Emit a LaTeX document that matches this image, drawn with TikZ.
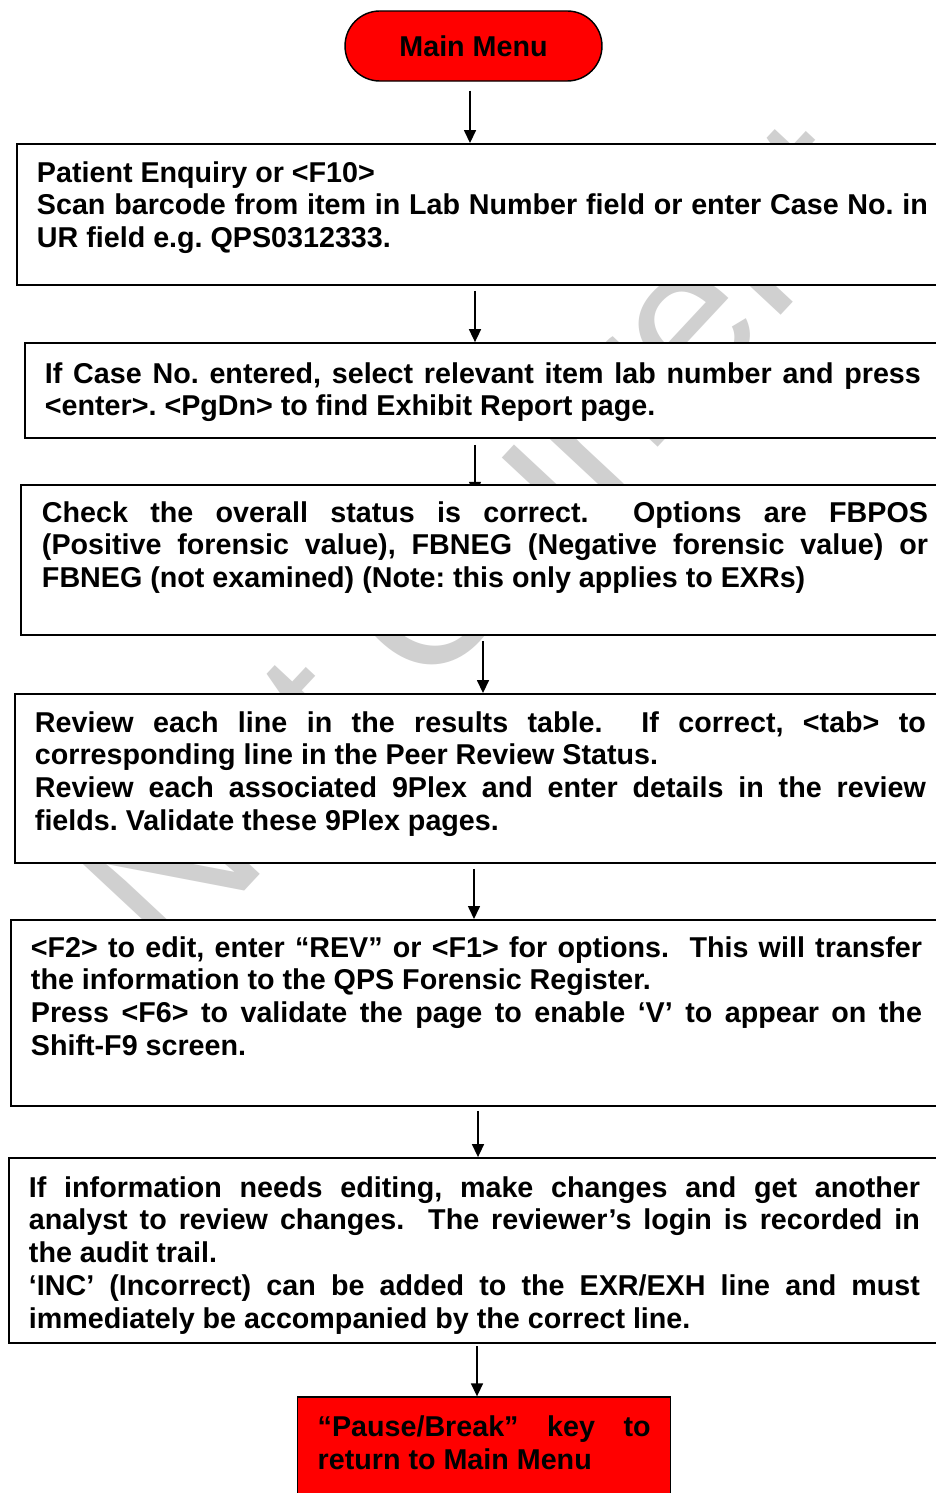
\documentclass[tikz,border=0pt]{standalone}
\usepackage{fontspec}
\setmainfont{Liberation Sans}
\usepackage{tikz}
\usetikzlibrary{arrows.meta,positioning,backgrounds}
\definecolor{wmgray}{RGB}{208,208,208}
\hyphenpenalty=10000
\exhyphenpenalty=10000
\tolerance=10000
\hbadness=10000
\frenchspacing

\begin{document}
\begin{tikzpicture}[
    x=0.4184pt, y=-0.4184pt,
    stepbox/.style={draw, fill=white, line width=0.8pt, anchor=base west, inner ysep=0pt, inner xsep=8.37pt, align=justify, font=\bfseries\fontsize{12}{13.8}\selectfont},
    menubox/.style={draw, fill=red, line width=0.6pt, font=\bfseries\fontsize{12}{13.8}\selectfont},
    arr/.style={-{Triangle[length=5.4pt,width=5pt]}, line width=0.6pt}
  ]
    \useasboundingbox (0,0) rectangle (935,1493);
    \node[menubox, rounded corners=14.6pt, minimum width=107.5pt, minimum height=29.3pt] (menu) at (473.5,46) {Main Menu};
    \node[stepbox, text width=372.8pt, text height=15.9pt, text depth=43.1pt] (enquiry) at (16,182) {Patient Enquiry or <F10>\\Scan barcode from item in Lab Number field or enter Case No. in\linebreak UR field e.g. QPS0312333.};
    \node[stepbox, text width=366.5pt, text height=16.7pt, text depth=23pt] (caseno) at (24,383) {If Case No. entered, select relevant item lab number and press\linebreak <enter>. <PgDn> to find Exhibit Report page.};
    \node[stepbox, inner xsep=8.8pt, text width=370.7pt, text height=15.5pt, text depth=47.3pt] (status) at (20,522) {Check the overall status is correct.\ \ Options are FBPOS\linebreak (Positive forensic value), FBNEG (Negative forensic value) or\linebreak FBNEG (not examined) (Note: this only applies to EXRs)};
    \node[stepbox, text width=372.8pt, text height=15.9pt, text depth=54.8pt] (review) at (14,732) {Review each line in the results table.\ \ If correct, <tab> to\linebreak corresponding line in the Peer Review Status.\\Review each associated 9Plex and enter details in the review\linebreak fields. Validate these 9Plex pages.};
    \node[stepbox, text width=372.8pt, text height=15.5pt, text depth=62.3pt] (transfer) at (10,957) {<F2> to edit, enter “REV” or <F1> for options.\ \ This will transfer\linebreak the information to the QPS Forensic Register.\\Press <F6> to validate the page to enable ‘V’ to appear on the\linebreak Shift-F9 screen.};
    \node[stepbox, text width=372.8pt, text height=16.3pt, text depth=61.1pt] (editing) at (8,1197) {If information needs editing, make changes and get another\linebreak analyst to review changes.\ \ The reviewer’s login is recorded in\linebreak the audit trail.\\‘INC’ (Incorrect) can be added to the EXR/EXH line and must\linebreak immediately be accompanied by the correct line.};
    \node[menubox, anchor=base west, inner ysep=0pt, inner xsep=8.37pt, align=justify, text width=139.3pt, text height=16.3pt, text depth=35.1pt] (pause) at (297,1436) {“Pause/Break” key to\linebreak return to Main Menu};

    \begin{pgfonlayer}{background}
      \fill[white] (0,0) rectangle (935,1493);
      \node[text=wmgray, rotate=47, font=\fontsize{85}{85}\selectfont] (watermark) at (478,538) {Not Current};
      \draw[arr] (menu.south -| 470,0) ++(0,9) -- (enquiry.north -| 470,0);
      \draw[arr] (enquiry.south -| 475,0) ++(0,5) -- (caseno.north -| 475,0);
      \draw[arr] (caseno.south -| 475,0) ++(0,6) -- ([yshift=-4.5pt]status.north -| 475,0);
      \draw[arr] (status.south -| 483,0) ++(0,5) -- (review.north -| 483,0);
      \draw[arr] (review.south -| 474,0) ++(0,5) -- (transfer.north -| 474,0);
      \draw[arr] (transfer.south -| 478,0) ++(0,4) -- (editing.north -| 478,0);
      \draw[arr] (editing.south -| 477,0) ++(0,2) -- (pause.north -| 477,0);
    \end{pgfonlayer}
\end{tikzpicture}
\end{document}
